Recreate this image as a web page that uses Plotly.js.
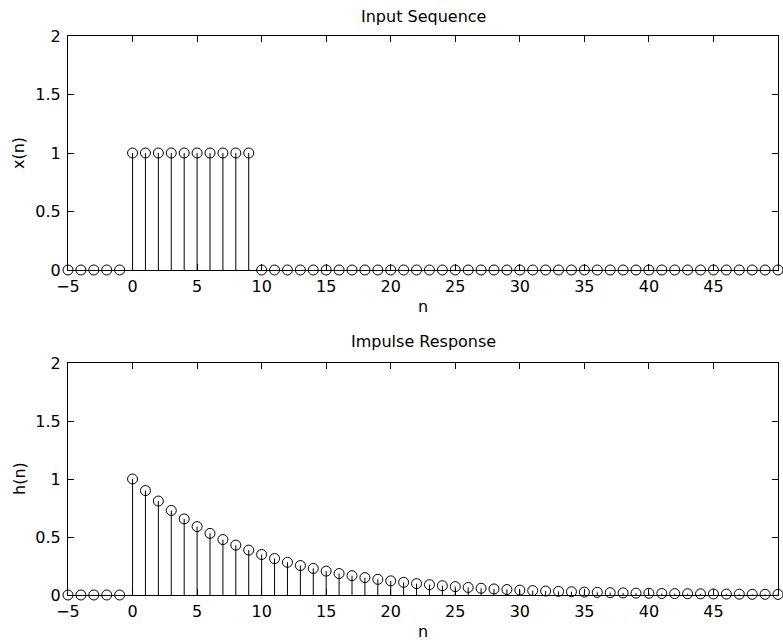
<!DOCTYPE html>
<html>
<head>
<meta charset="utf-8">
<script src="https://cdn.plot.ly/plotly-3.0.1.min.js"></script>
<style>html,body{margin:0;padding:0;background:#fff;}#chart{width:783px;height:642px;}</style>
</head>
<body>
<div id="chart"></div>
<script>
// sample indices n = -5 .. 50
const n = [-5,-4,-3,-2,-1,0,1,2,3,4,5,6,7,8,9,10,11,12,13,14,15,16,17,18,19,20,21,22,23,24,25,26,27,28,29,30,31,32,33,34,35,36,37,38,39,40,41,42,43,44,45,46,47,48,49,50];
// input sequence x(n)
const xSeq = [0,0,0,0,0,1,1,1,1,1,1,1,1,1,1,0,0,0,0,0,0,0,0,0,0,0,0,0,0,0,0,0,0,0,0,0,0,0,0,0,0,0,0,0,0,0,0,0,0,0,0,0,0,0,0,0];
// impulse response h(n)
const hSeq = [0,0,0,0,0,1,0.9,0.81,0.729,0.656,0.590,0.531,0.478,0.430,0.387,0.349,0.314,0.282,0.254,0.229,0.206,0.185,0.167,0.150,0.135,0.122,0.109,0.098,0.089,0.080,0.072,0.065,0.058,0.052,0.047,0.042,0.038,0.034,0.031,0.028,0.025,0.023,0.020,0.018,0.016,0.015,0.013,0.012,0.011,0.010,0.009,0.008,0.007,0.006,0.006,0.005];
const xTicks = [-5,0,5,10,15,20,25,30,35,40,45];
const yTicks = [0,0.5,1,1.5,2];

function stems(xs, ys, xa, ya) {
  const sx = [], sy = [];
  xs.forEach((v, i) => { if (ys[i] !== 0) { sx.push(v, v, null); sy.push(0, ys[i], null); } });
  return [
    {x: sx, y: sy, xaxis: xa, yaxis: ya, mode: 'lines', type: 'scatter',
     line: {color: '#000', width: 1}, hoverinfo: 'skip', showlegend: false},
    {x: xs, y: ys, xaxis: xa, yaxis: ya, mode: 'markers', type: 'scatter', cliponaxis: false,
     marker: {symbol: 'circle-open', size: 10, color: '#000', line: {color: '#000', width: 1}}, showlegend: false}
  ];
}

const font = {family: 'DejaVu Sans, sans-serif', size: 16, color: '#000'};
function xax(anchor) {
  return {anchor: anchor, range: [-5, 50], tickvals: xTicks, ticktext: xTicks.map(v => v < 0 ? '\u2212' + Math.abs(v) : String(v)),
    ticks: 'inside', ticklen: 6, tickcolor: '#000', showline: true, linecolor: '#000', linewidth: 1,
    mirror: 'ticks', showgrid: false, zeroline: false, tickfont: font, ticklabelstandoff: 2};
}
function yax(anchor, dom) {
  return {anchor: anchor, domain: dom, range: [0, 2], tickvals: yTicks, ticktext: yTicks.map(String),
    ticks: 'inside', ticklen: 6, tickcolor: '#000', showline: true, linecolor: '#000', linewidth: 1,
    mirror: 'ticks', showgrid: false, zeroline: false, tickfont: font, ticklabelstandoff: 3};
}

const topDom = [0.5814, 1], botDom = [0, 0.415];
const data = [].concat(stems(n, xSeq, 'x', 'y'), stems(n, hSeq, 'x2', 'y2'));
const ann = (text, x, y, xs, ys, angle) => ({text: text, xref: 'paper', yref: 'paper', x: x, y: y, xshift: xs, yshift: ys,
  xanchor: 'center', yanchor: 'middle', textangle: angle || 0, showarrow: false, font: font});
const layout = {
  width: 783, height: 642,
  margin: {l: 68, r: 5, t: 36, b: 47},
  paper_bgcolor: '#fff', plot_bgcolor: '#fff',
  font: font,
  xaxis: xax('y'),
  yaxis: yax('x', topDom),
  xaxis2: xax('y2'),
  yaxis2: yax('x2', botDom),
  annotations: [
    ann('Input Sequence', 0.5, topDom[1], 0, 20),
    ann('Impulse Response', 0.5, botDom[1], 0, 22),
    ann('n', 0.5, topDom[0], 0, -37),
    ann('n', 0.5, botDom[0], 0, -36),
    ann('x(n)', 0, (topDom[0] + topDom[1]) / 2, -49, 0, -90),
    ann('h(n)', 0, (botDom[0] + botDom[1]) / 2, -49, 0, -90)
  ]
};
Plotly.newPlot('chart', data, layout, {displayModeBar: false, staticPlot: true});
</script>
</body>
</html>
